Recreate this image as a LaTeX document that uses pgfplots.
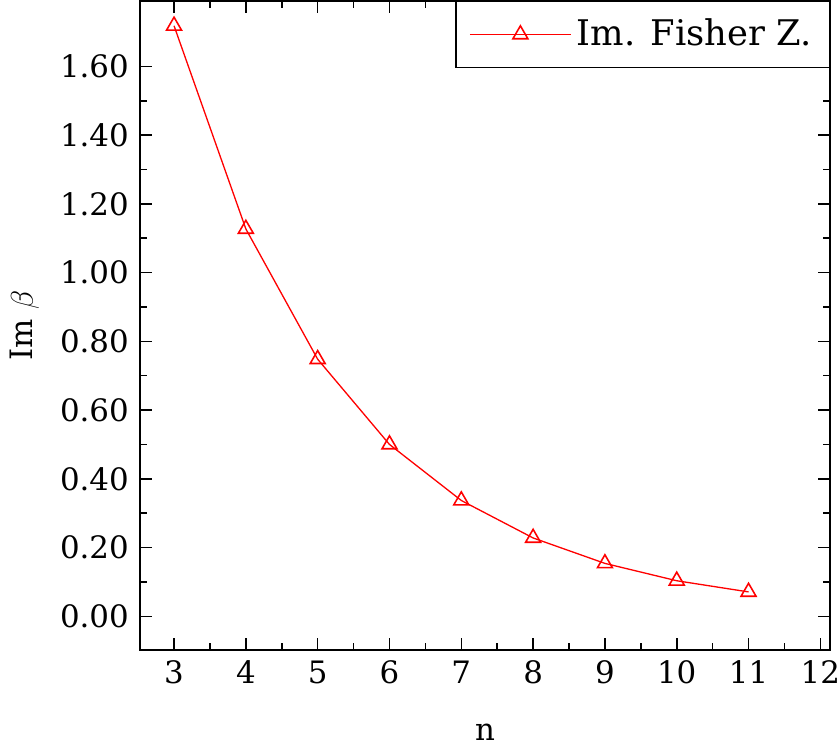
\documentclass[border=0pt]{standalone}
\usepackage{fontspec}
\setmainfont{DejaVu Serif}
\usepackage{pgfplots}
\pgfplotsset{compat=1.18}
\begin{document}
\fontsize{11.8}{14}\selectfont
\begin{tikzpicture}
\begin{axis}[
  scale only axis,
  width=264pt, height=248pt,
  xmin=2.52, xmax=12.14,
  ymin=-0.098, ymax=1.79,
  xtick={3,4,...,12},
  ytick={0,0.2,...,1.61},
  minor x tick num=1,
  minor y tick num=1,
  tick align=inside,
  tick pos=both,
  major tick length=4.6pt,
  minor tick length=2.7pt,
  axis line style={line width=0.8pt},
  every tick/.style={black, line width=0.6pt},
  /pgf/number format/assume math mode=true,
  yticklabel style={/pgf/number format/.cd, fixed, fixed zerofill, precision=2},
  xticklabel style={inner xsep=0pt, /pgf/number format/.cd, fixed, precision=0},
  xlabel={n},
  ylabel={Im $\beta$},
  xlabel style={yshift=-7pt},
  ylabel style={yshift=0pt},
  legend style={at={(rel axis cs:1,1)}, anchor=north east, draw=black, line width=0.5pt, inner xsep=5pt, inner ysep=4.5pt, legend cell align=left, font=\fontsize{13.5}{16}\selectfont, /tikz/every even column/.append style={column sep=4pt}},
  legend image code/.code={\draw[#1, draw=red, mark repeat=2, mark phase=2] plot coordinates {(0cm,0cm) (0.68cm,0cm) (1.36cm,0cm)};},
]
\addplot[red, line width=0.5pt, mark=triangle, mark size=3.3pt, mark options={solid, line width=0.6pt}] coordinates {
(3,1.718) (4,1.127) (5,0.748) (6,0.500) (7,0.337) (8,0.228) (9,0.154) (10,0.1035) (11,0.071)
};
\addlegendentry{Im. Fisher Z.}
\end{axis}
\end{tikzpicture}
\end{document}
